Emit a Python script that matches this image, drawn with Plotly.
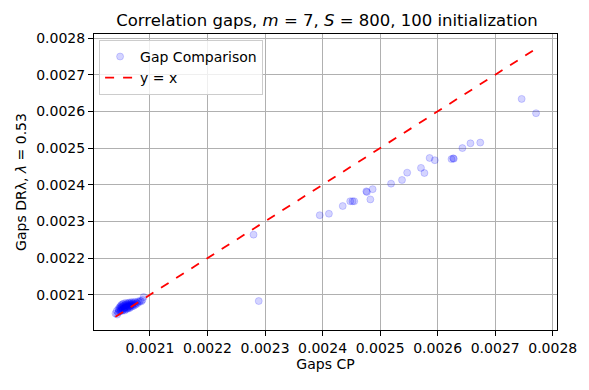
import plotly.graph_objects as go

# gaps from CP (x) and DR-lambda (y), one pair per initialization
cp_gaps = [
    0.002040, 0.002042, 0.002043, 0.002045, 0.002045, 0.002046, 0.002047, 0.002048,
    0.002048, 0.002049, 0.002049, 0.002050, 0.002050, 0.002051, 0.002051, 0.002052,
    0.002052, 0.002053, 0.002053, 0.002054, 0.002054, 0.002055, 0.002055, 0.002056,
    0.002056, 0.002057, 0.002057, 0.002058, 0.002058, 0.002059, 0.002059, 0.002060,
    0.002060, 0.002061, 0.002061, 0.002062, 0.002062, 0.002063, 0.002063, 0.002064,
    0.002064, 0.002065, 0.002065, 0.002066, 0.002066, 0.002067, 0.002068, 0.002068,
    0.002069, 0.002070, 0.002070, 0.002071, 0.002072, 0.002073, 0.002074, 0.002075,
    0.002076, 0.002078, 0.002079, 0.002081, 0.002083, 0.002085, 0.002087, 0.002089,
    0.002280, 0.002289, 0.002395, 0.002411, 0.002435, 0.002448, 0.002452, 0.002455,
    0.002476, 0.002477, 0.002487, 0.002483, 0.002519, 0.002538, 0.002547, 0.002571,
    0.002577, 0.002586, 0.002595, 0.002624, 0.002627, 0.002628, 0.002643, 0.002657,
    0.002674, 0.002746, 0.002771,
]
dr_gaps = [
    0.002049, 0.002056, 0.002046, 0.002061, 0.002052, 0.002058, 0.002066, 0.002055,
    0.002063, 0.002069, 0.002058, 0.002064, 0.002072, 0.002056, 0.002067, 0.002061,
    0.002074, 0.002058, 0.002069, 0.002064, 0.002076, 0.002060, 0.002071, 0.002066,
    0.002057, 0.002073, 0.002063, 0.002068, 0.002078, 0.002061, 0.002072, 0.002066,
    0.002075, 0.002062, 0.002070, 0.002077, 0.002065, 0.002072, 0.002068, 0.002079,
    0.002063, 0.002074, 0.002069, 0.002066, 0.002077, 0.002071, 0.002074, 0.002080,
    0.002068, 0.002076, 0.002072, 0.002079, 0.002070, 0.002075, 0.002081, 0.002073,
    0.002078, 0.002076, 0.002082, 0.002080, 0.002084, 0.002082, 0.002086, 0.002094,
    0.002264, 0.002083, 0.002317, 0.002321, 0.002342, 0.002355, 0.002355, 0.002355,
    0.002382, 0.002380, 0.002388, 0.002360, 0.002403, 0.002413, 0.002433, 0.002446,
    0.002432, 0.002473, 0.002467, 0.002470, 0.002472, 0.002471, 0.002500, 0.002513,
    0.002515, 0.002634, 0.002595,
]

lo = min(min(cp_gaps), min(dr_gaps))
hi = max(max(cp_gaps), max(dr_gaps))

tick_vals = [0.0021, 0.0022, 0.0023, 0.0024, 0.0025, 0.0026, 0.0027, 0.0028]

font = "DejaVu Sans, sans-serif"

# the page body has an 8px margin, so the figure is shifted inside the window
W, H = 581, 374

fig = go.Figure()
fig.add_trace(go.Scatter(
    x=cp_gaps, y=dr_gaps, mode="markers", name="Gap Comparison",
    marker=dict(size=7, color="rgba(0,0,255,0.17)",
                line=dict(color="rgba(0,0,255,0.17)", width=1)),
))
fig.add_trace(go.Scatter(
    x=[lo, hi], y=[lo, hi], mode="lines", name="y = x",
    line=dict(color="red", dash="dash", width=1.8),
))

axis = dict(
    showgrid=True, gridcolor="#b0b0b0", gridwidth=0.8,
    showline=True, linecolor="black", linewidth=1, mirror=True,
    ticks="outside", ticklen=5, tickcolor="black",
    tickvals=tick_vals, tickformat=".4f", zeroline=False,
    tickfont=dict(family=font, size=14, color="black"),
)

fig.update_layout(
    width=W, height=H,
    margin=dict(l=85, r=28, t=26, b=45),
    paper_bgcolor="white", plot_bgcolor="white",
    font=dict(family=font, size=14, color="black"),
    title=dict(text="Correlation gaps, <i>m</i> = 7, <i>S</i> = 800, 100 initialization",
               x=(85 + W - 28) / 2 / W, xanchor="center", y=1 - 12.5 / H, yanchor="middle",
               font=dict(family=font, size=16.5)),
    xaxis=dict(axis, range=[0.0020027, 0.0028074],
               title=dict(text="Gaps CP", font=dict(size=14), standoff=4)),
    yaxis=dict(axis, range=[0.002004, 0.002811],
               title=dict(text="Gaps DRλ, <i>λ</i> = 0.53", font=dict(size=14), standoff=6)),
    legend=dict(x=0.011, y=0.98, xanchor="left", yanchor="top",
                bgcolor="rgba(255,255,255,0.8)", bordercolor="#cccccc", borderwidth=1,
                font=dict(family=font, size=14)),
    showlegend=True,
)

fig.write_html("out.html")
